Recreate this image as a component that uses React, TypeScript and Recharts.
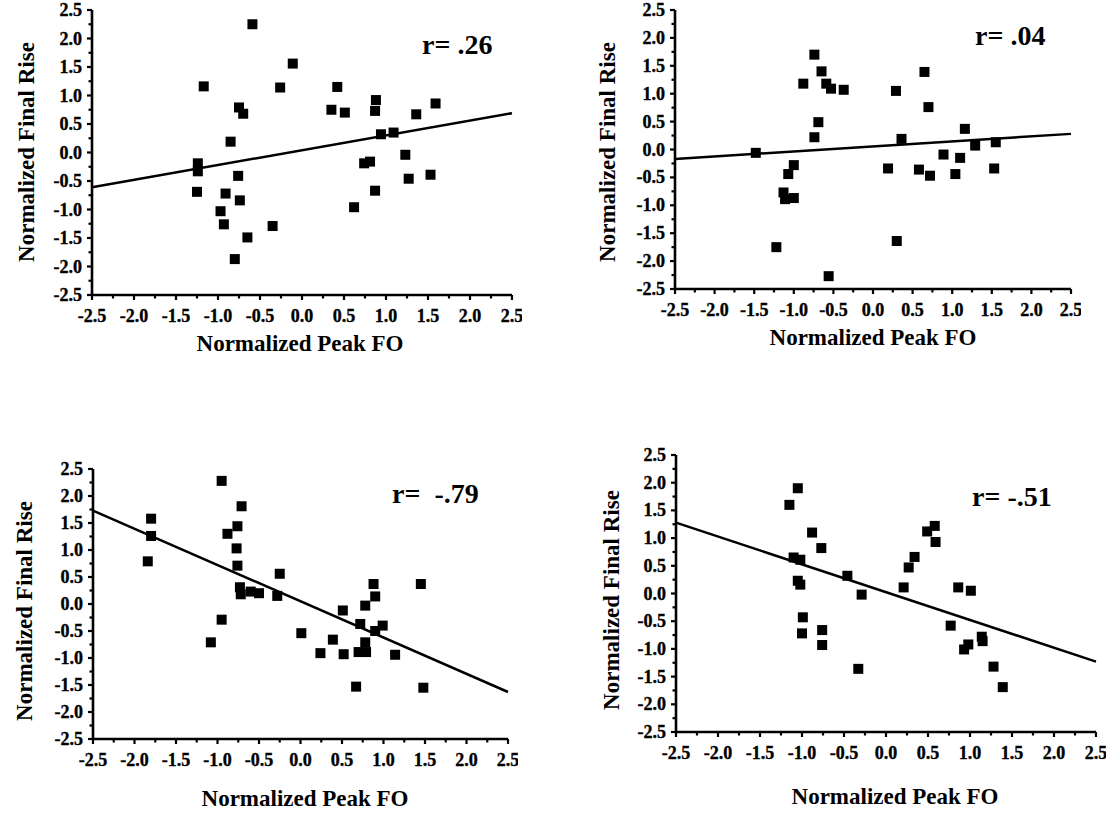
import React from 'react';
import { ScatterChart, Scatter, XAxis, YAxis, ReferenceLine } from 'recharts';

const axisTicks = [-2.5, -2.25, -2, -1.75, -1.5, -1.25, -1, -0.75, -0.5, -0.25, 0, 0.25, 0.5, 0.75, 1, 1.25, 1.5, 1.75, 2, 2.25, 2.5];
const labeledTicks = [-2.5, -2, -1.5, -1, -0.5, 0, 0.5, 1, 1.5, 2, 2.5];
const fitX = [-2.5, 2.5];
const xTitle = 'Normalized Peak FO';
const yTitle = 'Normalized Final Rise';

const p1X = [-0.59, -1.17, -0.11, -0.26, -0.75, -0.7, -0.85, -1.24, -1.24, -1.25, -0.76, -0.91, -0.97, -0.93, -0.74, -0.65, -0.8, -0.35, 0.35, 0.42, 0.51, 0.88, 0.87, 0.94, 1.09, 1.36, 1.59, 0.74, 0.81, 0.87, 0.62, 1.23, 1.27, 1.53];
const p1Y = [2.25, 1.16, 1.56, 1.14, 0.79, 0.68, 0.19, -0.19, -0.33, -0.69, -0.41, -0.72, -1.03, -1.26, -0.84, -1.49, -1.87, -1.29, 0.75, 1.15, 0.7, 0.92, 0.73, 0.32, 0.35, 0.67, 0.86, -0.19, -0.16, -0.67, -0.96, -0.04, -0.46, -0.39];
const p1Fit = [-0.61, 0.69];

const p2X = [-1.48, -1.22, -0.88, -0.74, -0.65, -0.59, -0.53, -0.37, -0.69, -0.74, -1.0, -1.07, -1.13, -1.11, -1.0, -0.56, 0.29, 0.36, 0.19, 0.3, 0.65, 0.7, 0.58, 0.72, 0.89, 1.04, 1.1, 1.16, 1.29, 1.55, 1.53];
const p2Y = [-0.06, -1.75, 1.18, 1.7, 1.4, 1.18, 1.09, 1.07, 0.49, 0.22, -0.28, -0.44, -0.77, -0.89, -0.87, -2.27, 1.05, 0.19, -0.34, -1.64, 1.39, 0.76, -0.36, -0.47, -0.09, -0.44, -0.15, 0.37, 0.07, 0.13, -0.34];
const p2Fit = [-0.17, 0.28];

const p3X = [-1.8, -1.8, -1.84, -0.95, -0.71, -0.76, -0.88, -0.77, -0.76, -0.73, -0.72, -0.6, -0.5, -0.95, -1.08, -0.25, -0.28, 0.01, 0.24, 0.39, 0.51, 0.52, 0.67, 0.72, 0.7, 0.78, 0.78, 0.79, 0.88, 0.9, 0.9, 0.99, 1.14, 1.45, 1.48];
const p3Y = [1.58, 1.26, 0.79, 2.28, 1.81, 1.44, 1.3, 1.03, 0.71, 0.31, 0.18, 0.23, 0.2, -0.29, -0.71, 0.56, 0.15, -0.54, -0.91, -0.66, -0.12, -0.93, -1.53, -0.37, -0.89, -0.03, -0.71, -0.89, 0.37, 0.14, -0.5, -0.4, -0.94, 0.37, -1.55];
const p3Fit = [1.73, -1.63];

const p4X = [-1.15, -1.05, -0.88, -0.77, -1.1, -1.02, -1.05, -1.02, -0.99, -1.0, -0.76, -0.76, -0.46, -0.29, -0.33, 0.21, 0.27, 0.34, 0.49, 0.58, 0.59, 0.77, 0.86, 1.01, 0.93, 0.98, 1.14, 1.15, 1.28, 1.39];
const p4Y = [1.6, 1.9, 1.1, 0.82, 0.65, 0.61, 0.23, 0.16, -0.43, -0.72, -0.66, -0.93, 0.32, -0.02, -1.36, 0.11, 0.47, 0.66, 1.12, 1.22, 0.93, -0.58, 0.11, 0.05, -1.01, -0.92, -0.78, -0.86, -1.32, -1.69];
const p4Fit = [1.28, -1.23];

const rLabels = ['r= .26', 'r= .04', 'r=  -.79', 'r= -.51'];

const FONT = '"Liberation Serif", serif';

const isMajor = (v: number) => labeledTicks.some((t) => Math.abs(t - v) < 1e-6);

const XTick = (props: any) => {
  const { x, y, payload } = props;
  const v = payload.value as number;
  const major = isMajor(v);
  return (
    <g>
      <line x1={x} x2={x} y1={y} y2={y + (major ? 5 : 3.5)} stroke="#000" strokeWidth={2.2} />
      {major && (
        <text
          x={x}
          y={y + 27}
          textAnchor="middle"
          fontFamily={FONT}
          fontWeight="bold"
          fontSize={18}
          fill="#000"
          stroke="#000"
          strokeWidth={0.35}
        >
          {v.toFixed(1)}
        </text>
      )}
    </g>
  );
};

const YTick = (props: any) => {
  const { x, y, payload } = props;
  const v = payload.value as number;
  const major = isMajor(v);
  return (
    <g>
      <line x1={x - (major ? 5 : 3.5)} x2={x} y1={y} y2={y} stroke="#000" strokeWidth={2.2} />
      {major && (
        <text
          x={x - 10}
          y={y + 6}
          textAnchor="end"
          fontFamily={FONT}
          fontWeight="bold"
          fontSize={18}
          fill="#000"
          stroke="#000"
          strokeWidth={0.35}
        >
          {v.toFixed(1)}
        </text>
      )}
    </g>
  );
};

const Square = (props: any) => {
  const { cx, cy } = props;
  return <rect x={cx - 5} y={cy - 5} width={10} height={10} fill="#000" />;
};

type Rect = { x: number; y: number; w: number; h: number };
type Pt = { x: number; y: number };

function Panel(props: {
  xs: number[];
  ys: number[];
  fit: number[];
  r: string;
  plot: Rect;
  rPos: Pt;
  xTitlePos: Pt;
  yTitlePos: Pt;
}) {
  const { xs, ys, fit, r, plot, rPos, xTitlePos, yTitlePos } = props;
  const data = xs.map((x, i) => ({ x, y: ys[i] }));
  const YW = 70;
  const MT = 10;
  const MR = 10;
  const XH = 40;
  const W = YW + plot.w + MR;
  const H = MT + plot.h + XH;
  const axisLine = { stroke: '#000', strokeWidth: 2.6 };
  return (
    <>
      <div style={{ position: 'absolute', left: plot.x - YW, top: plot.y - MT }}>
        <ScatterChart width={W} height={H} margin={{ top: MT, right: MR, bottom: 0, left: 0 }}>
          <XAxis
            type="number"
            dataKey="x"
            domain={[-2.5, 2.5]}
            ticks={axisTicks}
            interval={0}
            tickSize={0}
            tickMargin={0}
            tickLine={false}
            axisLine={axisLine}
            tick={XTick}
            height={XH}
            allowDataOverflow
          />
          <YAxis
            type="number"
            dataKey="y"
            domain={[-2.5, 2.5]}
            ticks={axisTicks}
            interval={0}
            tickSize={0}
            tickMargin={0}
            tickLine={false}
            axisLine={axisLine}
            tick={YTick}
            width={YW}
            allowDataOverflow
          />
          <ReferenceLine
            segment={[
              { x: fitX[0], y: fit[0] },
              { x: fitX[1], y: fit[1] },
            ]}
            stroke="#000"
            strokeWidth={2.5}
          />
          <Scatter data={data} fill="#000" shape={Square} isAnimationActive={false} />
        </ScatterChart>
      </div>
      <div
        style={{
          position: 'absolute',
          left: rPos.x,
          top: rPos.y,
          transform: 'translateY(-50%)',
          fontFamily: FONT,
          fontWeight: 'bold',
          fontSize: 28,
          lineHeight: 1,
          whiteSpace: 'pre',
        }}
      >
        {r}
      </div>
      <div
        style={{
          position: 'absolute',
          left: xTitlePos.x,
          top: xTitlePos.y,
          transform: 'translate(-50%, -50%)',
          fontFamily: FONT,
          fontWeight: 'bold',
          fontSize: 23,
          lineHeight: 1,
          whiteSpace: 'nowrap',
        }}
      >
        {xTitle}
      </div>
      <div
        style={{
          position: 'absolute',
          left: yTitlePos.x,
          top: yTitlePos.y,
          transform: 'translate(-50%, -50%) rotate(-90deg)',
          fontFamily: FONT,
          fontWeight: 'bold',
          fontSize: 23,
          lineHeight: 1,
          whiteSpace: 'nowrap',
        }}
      >
        {yTitle}
      </div>
    </>
  );
}

export default function App() {
  return (
    <div style={{ position: 'absolute', left: 0, top: 0, width: 1117, height: 813, background: '#fff', overflow: 'hidden' }}>
      <Panel
        xs={p1X}
        ys={p1Y}
        fit={p1Fit}
        r={rLabels[0]}
        plot={{ x: 92, y: 10, w: 420, h: 285 }}
        rPos={{ x: 422, y: 45 }}
        xTitlePos={{ x: 300, y: 343 }}
        yTitlePos={{ x: 26, y: 152 }}
      />
      <Panel
        xs={p2X}
        ys={p2Y}
        fit={p2Fit}
        r={rLabels[1]}
        plot={{ x: 675, y: 10, w: 396, h: 279 }}
        rPos={{ x: 975, y: 36 }}
        xTitlePos={{ x: 873, y: 337 }}
        yTitlePos={{ x: 607, y: 152 }}
      />
      <Panel
        xs={p3X}
        ys={p3Y}
        fit={p3Fit}
        r={rLabels[2]}
        plot={{ x: 93, y: 469, w: 415, h: 270 }}
        rPos={{ x: 392, y: 494 }}
        xTitlePos={{ x: 305, y: 798 }}
        yTitlePos={{ x: 24, y: 611 }}
      />
      <Panel
        xs={p4X}
        ys={p4Y}
        fit={p4Fit}
        r={rLabels[3]}
        plot={{ x: 676, y: 455, w: 420, h: 277 }}
        rPos={{ x: 972, y: 497 }}
        xTitlePos={{ x: 895, y: 796 }}
        yTitlePos={{ x: 611, y: 600 }}
      />
    </div>
  );
}
